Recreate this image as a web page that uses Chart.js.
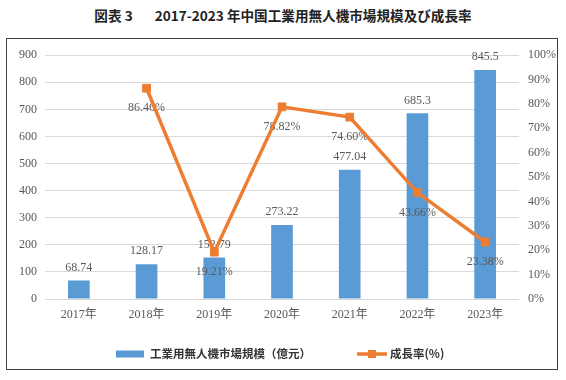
<!DOCTYPE html>
<html>
<head>
<meta charset="utf-8">
<script src="https://cdn.jsdelivr.net/npm/chart.js@4.4.0/dist/chart.umd.min.js"></script>
<style>
  body { margin: 0; width: 566px; height: 380px; background: #fff; position: relative; overflow: hidden; }
  #title { position: absolute; left: 0; top: 5px; width: 566px; line-height: 20px; text-align: center;
           font: bold 13.6px "Noto Sans CJK JP", sans-serif; color: #222; }
  #box { position: absolute; left: 6px; top: 38px; width: 550px; height: 330px; border: 1px solid #404040; }
</style>
</head>
<body>
<div id="title">図表 3<span style="margin-left:22px">2017-2023 年中国工業用無人機市場規模及び成長率</span></div>
<div id="box"><canvas id="chart" width="550" height="330"></canvas></div>
<script>
const years = ["2017年", "2018年", "2019年", "2020年", "2021年", "2022年", "2023年"];
const marketSize = [68.74, 128.17, 152.79, 273.22, 477.04, 685.3, 845.5];
const growthRate = [null, 86.46, 19.21, 78.82, 74.60, 43.66, 23.38];
const seriesNames = ["工業用無人機市場規模（億元）", "成長率(%)"];

const barColor = "#5B9BD5";
const lineColor = "#ED7D31";
const labelFont = '12px "Liberation Serif", "Noto Sans CJK JP", serif';

// data labels: drawn after the bars, before the line
const valueLabels = {
  id: "valueLabels",
  afterDatasetDraw(chart, args) {
    if (args.index !== 0) return;
    const ctx = chart.ctx;
    ctx.save();
    ctx.font = labelFont;
    ctx.fillStyle = "#595959";
    ctx.textAlign = "center";
    ctx.textBaseline = "bottom";
    chart.getDatasetMeta(0).data.forEach((bar, i) => {
      ctx.fillText(String(marketSize[i]), bar.x, bar.y - 7);
    });
    ctx.textBaseline = "middle";
    chart.getDatasetMeta(1).data.forEach((pt, i) => {
      if (growthRate[i] == null) return;
      ctx.fillText(growthRate[i].toFixed(2) + "%", pt.x, pt.y + 20);
    });
    ctx.restore();
  }
};

// legend at the bottom, excel style
const bottomLegend = {
  id: "bottomLegend",
  afterDraw(chart) {
    const ctx = chart.ctx;
    ctx.save();
    ctx.font = 'bold 11.5px "Noto Sans CJK JP", sans-serif';
    ctx.textBaseline = "middle";
    ctx.fillStyle = "#333";
    const w0 = ctx.measureText(seriesNames[0]).width;
    const w1 = ctx.measureText(seriesNames[1]).width;
    const total = 28 + 6 + w0 + 46 + 30 + 3 + w1;
    let x = Math.round(chart.width / 2 - total / 2) - 2;
    const y = chart.height - 15;
    ctx.fillStyle = barColor;
    ctx.fillRect(x, y - 3.5, 28, 7);
    x += 34;
    ctx.fillStyle = "#333";
    ctx.fillText(seriesNames[0], x, y);
    x += w0 + 46;
    ctx.strokeStyle = lineColor;
    ctx.lineWidth = 3.5;
    ctx.beginPath();
    ctx.moveTo(x, y);
    ctx.lineTo(x + 30, y);
    ctx.stroke();
    ctx.fillStyle = lineColor;
    ctx.fillRect(x + 11, y - 4, 8, 8);
    x += 33;
    ctx.fillStyle = "#333";
    ctx.fillText(seriesNames[1], x, y);
    ctx.restore();
  }
};

new Chart(document.getElementById("chart"), {
  data: {
    labels: years,
    datasets: [
      {
        type: "bar",
        label: seriesNames[0],
        data: marketSize,
        backgroundColor: barColor,
        barPercentage: 0.32,
        categoryPercentage: 1,
        yAxisID: "y",
        order: 1,
      },
      {
        type: "line",
        label: seriesNames[1],
        data: growthRate,
        borderColor: lineColor,
        backgroundColor: lineColor,
        borderWidth: 3.5,
        pointStyle: "rect",
        pointRadius: 5.5,
        pointBorderWidth: 1,
        pointBackgroundColor: lineColor,
        tension: 0,
        yAxisID: "y1",
        order: 0,
      },
    ],
  },
  options: {
    responsive: false,
    animation: false,
    layout: { padding: { top: 13, left: 0, right: 0, bottom: 0 } },
    plugins: {
      legend: { display: false },
      tooltip: { enabled: false },
    },
    scales: {
      x: {
        grid: { display: false, drawTicks: false },
        border: { display: false },
        ticks: { color: "#595959", font: { family: '"Liberation Serif", "Noto Sans CJK JP"', size: 12 }, padding: 9 },
        afterFit: (s) => { s.height = 70; },
      },
      y: {
        position: "left",
        min: 0,
        max: 900,
        ticks: { stepSize: 100, color: "#595959", font: { family: '"Liberation Serif"', size: 12 }, padding: 8 },
        grid: { color: "#d9d9d9", drawTicks: false },
        border: { display: false },
        afterFit: (s) => { s.width = 38; },
      },
      y1: {
        position: "right",
        min: 0,
        max: 100,
        ticks: { stepSize: 10, color: "#595959", font: { family: '"Liberation Serif"', size: 12 }, padding: 9,
                 callback: (v) => v + "%" },
        grid: { display: false, drawTicks: false },
        border: { display: false },
        afterFit: (s) => { s.width = 38; },
      },
    },
  },
  plugins: [valueLabels, bottomLegend],
});
</script>
</body>
</html>
